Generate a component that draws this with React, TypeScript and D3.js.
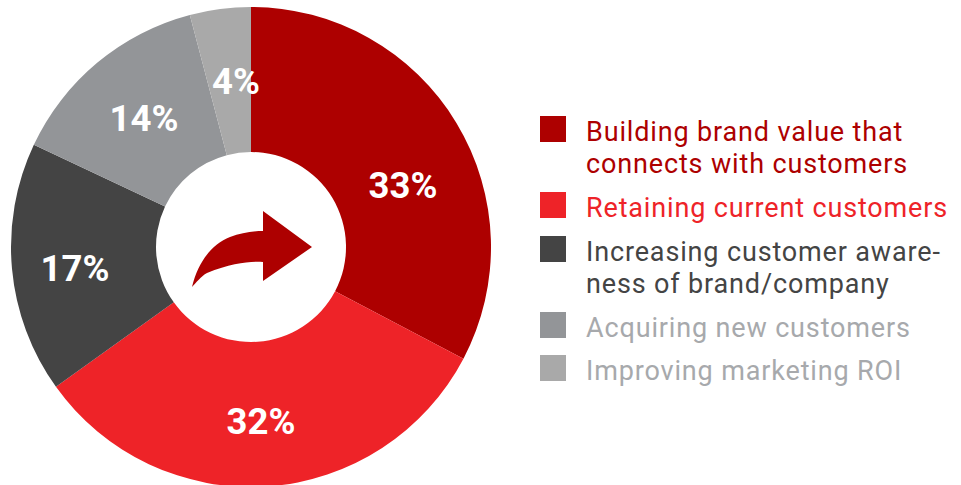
import React from "react";
import * as d3 from "d3";

const labels = ["33%", "32%", "17%", "14%", "4%"];
const values = [32.7, 32.4, 16.9, 13.9, 4.1];
const colors = ["#ad0000", "#ee2328", "#444444", "#939598", "#a9a9a9"];
const legendLines = [
  ["Building brand value that", "connects with customers"],
  ["Retaining current customers"],
  ["Increasing customer aware-", "ness of brand/company"],
  ["Acquiring new customers"],
  ["Improving marketing ROI"],
];
const legendColors = ["#ad0000", "#ee2328", "#444444", "#939598", "#a9a9a9"];
const textColors = ["#ad0000", "#ee2328", "#444444", "#a7a9ac", "#a7a9ac"];
const legendY = [129, 205, 249, 325, 368];

export default function App() {
  const pie = d3.pie<number>().sort(null)(values);
  const arc = d3.arc<d3.PieArcDatum<number>>().innerRadius(95).outerRadius(240);
  const labelPos = [[403, 185], [261, 421], [75, 268], [144, 118], [236, 81]];
  return (
    <svg width={961} height={485} style={{ position: "absolute", left: 0, top: 0, background: "#fff" }}>
      <g transform="translate(251,247)">
        {pie.map((d, i) => <path key={i} d={arc(d) || ""} fill={colors[i]} />)}
      </g>
      <path d="M192 287 C198 262 212 244 230 237 C241 233 252 231 263 231 L263 211 L312 247 L263 281 L263 262 C250 261 232 263 207 273 C201 276 196 283 192 287 Z" fill="#ad0000" />
      {labels.map((l, i) => (
        <text key={i} x={labelPos[i][0]} y={labelPos[i][1]} dy="0.36em" textAnchor="middle" fill="#fff" fontFamily="Roboto, sans-serif" fontWeight={700} fontSize={36.5}>{l}</text>
      ))}
      {legendLines.map((lines, i) => (
        <g key={i}>
          <rect x={540} y={legendY[i] - 13} width={26} height={26} fill={legendColors[i]} />
          {lines.map((t, j) => (
            <text key={j} x={586} y={legendY[i] + 12 + j * 32} fill={textColors[i]} fontFamily="Roboto, sans-serif" fontSize={27} letterSpacing={0.85}>{t}</text>
          ))}
        </g>
      ))}
    </svg>
  );
}
